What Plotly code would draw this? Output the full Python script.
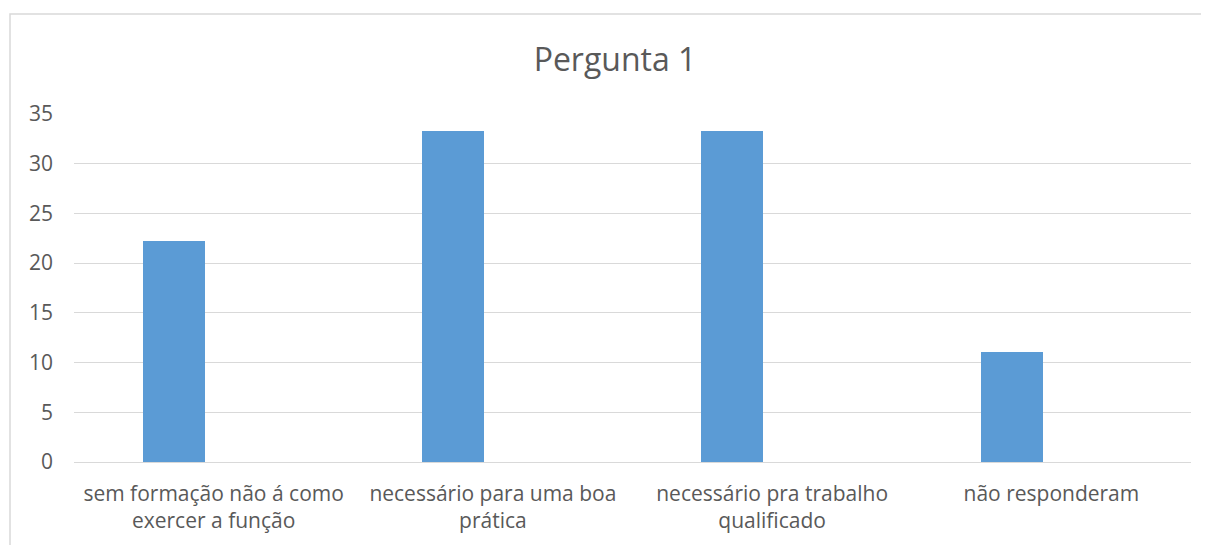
import plotly.graph_objects as go

# Pergunta 1 - respostas (%)
categories = [
    "sem formação não á como exercer a função",
    "necessário para uma boa prática",
    "necessário pra trabalho qualificado",
    "não responderam",
]
tick_labels = [
    "sem formação não á como<br>exercer a função",
    "necessário para uma boa<br>prática",
    "necessário pra trabalho<br>qualificado",
    "não responderam",
]
values = [22.2, 33.3, 33.3, 11.1]
y_ticks = [0, 5, 10, 15, 20, 25, 30, 35]

BAR_COLOR = '#5b9bd5'
TEXT_COLOR = '#595959'
GRID_COLOR = '#d9d9d9'
FONT = 'Open Sans, Segoe UI, sans-serif'

# page body has an 8px margin, so the figure sits 8px right/down in the window
W, H = 1201, 537

fig = go.Figure()

fig.add_trace(go.Bar(
    x=categories,
    y=values,
    width=0.222,
    offset=-0.253,
    marker=dict(color=BAR_COLOR, line=dict(width=0)),
    showlegend=False,
))

# chart frame: only left and top edges are visible in the picture
fig.add_shape(type='path', xref='paper', yref='paper',
              path='M -0.0573,-0.6 L -0.0573,1.287 L 1.3,1.287',
              line=dict(color=GRID_COLOR, width=1.5), layer='below')

fig.update_layout(
    width=W,
    height=H,
    margin=dict(l=66, r=18, t=106, b=H - 454),
    plot_bgcolor='white',
    paper_bgcolor='white',
    font=dict(family=FONT, color=TEXT_COLOR, size=21),
    title=dict(text='Pergunta 1', x=607 / W, xanchor='center',
               y=1 - 52 / H, yanchor='middle',
               font=dict(size=32, color=TEXT_COLOR, family=FONT)),
    bargap=0,
)

fig.update_xaxes(
    tickmode='array',
    tickvals=categories,
    ticktext=tick_labels,
    showgrid=False,
    showline=False,
    ticks='',
    tickfont=dict(size=21, color=TEXT_COLOR),
    ticklabelstandoff=17,
    automargin=False,
)

fig.update_yaxes(
    range=[0, 35],
    tickvals=y_ticks,
    showgrid=True,
    gridcolor=GRID_COLOR,
    gridwidth=1.3,
    zeroline=True,
    zerolinecolor=GRID_COLOR,
    zerolinewidth=1.3,
    showline=False,
    ticks='',
    tickfont=dict(size=21, color=TEXT_COLOR),
    ticklabelstandoff=20,
    automargin=False,
)

fig.write_html("out.html")
